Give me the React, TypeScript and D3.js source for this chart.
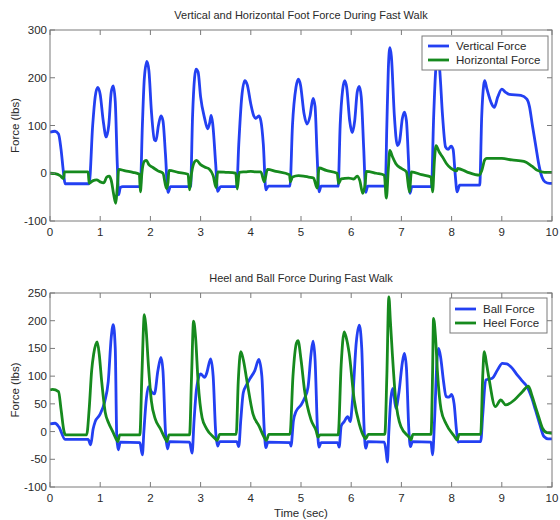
import React from "react";
import * as d3 from "d3";

// ---------- DATA ----------
const xTicks = [0, 1, 2, 3, 4, 5, 6, 7, 8, 9, 10];
const topYTicks = [-100, 0, 100, 200, 300];
const botYTicks = [-100, -50, 0, 50, 100, 150, 200, 250];

const topTitle = "Vertical and Horizontal Foot Force During Fast Walk";
const botTitle = "Heel and Ball Force During Fast Walk";
const yLabel = "Force (lbs)";
const xLabel = "Time (sec)";
const topSeriesNames = ["Vertical Force", "Horizontal Force"];
const botSeriesNames = ["Ball Force", "Heel Force"];

// [time (sec), force (lbs)]
const verticalForce: [number, number][] = [
  [0, 86], [0.1, 88], [0.17, 82], [0.22, 50], [0.27, 0], [0.3, -22], [0.78, -22],
  [0.85, 100], [0.9, 160], [0.95, 180], [1.0, 165], [1.06, 110], [1.12, 76], [1.17, 100],
  [1.22, 170], [1.26, 183], [1.3, 150], [1.34, 20], [1.37, -45], [1.4, -30], [1.45, -28],
  [1.8, -28], [1.84, 100], [1.88, 200], [1.93, 234], [1.97, 215], [2.02, 130], [2.08, 70],
  [2.11, 68], [2.16, 100], [2.21, 120], [2.25, 110], [2.3, 40], [2.35, -40], [2.4, -28],
  [2.8, -28], [2.84, 120], [2.88, 200], [2.91, 218], [2.95, 212], [3.0, 160], [3.08, 115],
  [3.14, 93], [3.18, 105], [3.21, 121], [3.24, 105], [3.3, 20], [3.34, -38], [3.4, -28],
  [3.72, -28], [3.76, 60], [3.82, 160], [3.88, 194], [3.93, 185], [4.0, 145], [4.06, 120],
  [4.1, 115], [4.16, 120], [4.2, 110], [4.25, 60], [4.3, -35], [4.35, -27], [4.78, -27],
  [4.83, 100], [4.9, 180], [4.95, 197], [4.99, 185], [5.06, 125], [5.12, 103], [5.18, 120],
  [5.24, 157], [5.28, 140], [5.32, 40], [5.36, -39], [5.4, -27], [5.74, -27], [5.78, 100],
  [5.83, 175], [5.87, 194], [5.91, 180], [5.97, 110], [6.02, 85], [6.07, 110], [6.12, 170],
  [6.16, 182], [6.2, 160], [6.25, 50], [6.29, -40], [6.33, -27], [6.68, -27], [6.71, 100],
  [6.74, 220], [6.77, 263], [6.8, 245], [6.86, 120], [6.92, 58], [6.96, 65], [7.02, 115],
  [7.06, 128], [7.1, 110], [7.14, 30], [7.17, -42], [7.21, -28], [7.6, -28], [7.64, 110],
  [7.68, 210], [7.72, 245], [7.76, 220], [7.82, 120], [7.88, 55], [7.93, 50], [7.99, 57],
  [8.03, 50], [8.07, 0], [8.11, -39], [8.16, -25], [8.56, -25], [8.6, 120], [8.64, 185],
  [8.66, 194], [8.7, 178], [8.8, 145], [8.85, 138], [8.92, 160], [9.0, 176], [9.07, 170],
  [9.15, 165], [9.38, 163], [9.5, 155], [9.55, 140], [9.61, 100], [9.68, 55], [9.74, 17],
  [9.8, -8], [9.86, -18], [9.95, -21], [10, -21],
];

const horizontalForce: [number, number][] = [
  [0, 0], [0.1, -1], [0.2, -5], [0.27, -11], [0.29, 3], [0.76, 3], [0.78, -21], [0.85, -16],
  [0.93, -14], [1.0, -18], [1.07, -20], [1.13, -8], [1.18, -6], [1.22, -15], [1.27, -45],
  [1.31, -63], [1.34, -30], [1.37, 8], [1.5, 5], [1.65, 2], [1.78, -2], [1.8, -39], [1.83, 0],
  [1.88, 25], [1.92, 27], [1.97, 18], [2.05, 12], [2.15, 5], [2.25, 0], [2.32, -32],
  [2.35, -20], [2.37, 6], [2.55, 2], [2.75, -2], [2.78, -35], [2.82, 0], [2.88, 24],
  [2.92, 27], [3.0, 18], [3.08, 13], [3.18, 8], [3.25, -5], [3.31, -30], [3.34, 3], [3.5, 2],
  [3.7, 0], [3.73, -33], [3.77, 2], [3.9, 3], [4.0, 4], [4.1, 3], [4.2, 3], [4.27, -18],
  [4.33, 8], [4.5, 4], [4.77, -3], [4.79, -18], [4.83, -8], [4.95, -5], [5.05, -6],
  [5.15, -8], [5.25, -10], [5.32, -31], [5.36, 11], [5.5, 6], [5.72, 0], [5.75, -21],
  [5.8, -12], [5.95, -10], [6.05, -12], [6.12, -6], [6.17, -15], [6.23, -42], [6.28, -20],
  [6.3, 4], [6.5, 0], [6.66, -4], [6.7, -52], [6.74, 10], [6.77, 48], [6.82, 35], [6.89, 20],
  [7.0, 10], [7.1, 3], [7.16, -39], [7.2, 3], [7.4, -3], [7.59, -8], [7.62, -39], [7.66, 30],
  [7.69, 58], [7.75, 45], [7.82, 34], [7.9, 20], [7.99, 10], [8.1, 5], [8.12, 10], [8.3, 3],
  [8.55, -4], [8.6, 5], [8.66, 28], [8.7, 31], [9.0, 31], [9.2, 28], [9.44, 25], [9.6, 15],
  [9.71, 6], [9.85, 2], [10, 2],
];

const ballForce: [number, number][] = [
  [0, 14], [0.1, 15], [0.18, 8], [0.3, -14], [0.76, -14], [0.81, -24], [0.86, 5], [0.9, 18],
  [0.99, 30], [1.09, 54], [1.16, 90], [1.22, 170], [1.26, 193], [1.3, 150], [1.33, -10],
  [1.36, -33], [1.4, -19], [1.79, -20], [1.84, -42], [1.87, 0], [1.92, 60], [1.96, 81],
  [2.02, 72], [2.08, 68], [2.15, 110], [2.21, 134], [2.25, 110], [2.3, 0], [2.34, -31],
  [2.38, -18], [2.78, -19], [2.83, -39], [2.87, 20], [2.92, 78], [3.0, 104], [3.08, 98],
  [3.12, 105], [3.2, 131], [3.25, 100], [3.3, 0], [3.34, -26], [3.38, -18], [3.72, -18],
  [3.76, -27], [3.8, 20], [3.85, 70], [3.92, 85], [3.98, 95], [4.08, 110], [4.16, 130],
  [4.22, 100], [4.27, 0], [4.3, -29], [4.34, -19], [4.78, -20], [4.8, -26], [4.85, 20],
  [4.9, 36], [5.0, 48], [5.07, 60], [5.14, 80], [5.2, 140], [5.24, 163], [5.28, 130],
  [5.33, 0], [5.36, -28], [5.4, -20], [5.73, -20], [5.76, -28], [5.8, 10], [5.86, 18],
  [5.93, 27], [5.98, 18], [6.03, 60], [6.1, 160], [6.16, 192], [6.21, 150], [6.26, 0],
  [6.29, -30], [6.33, -18], [6.66, -19], [6.7, -40], [6.72, -55], [6.75, 0], [6.79, 60],
  [6.83, 78], [6.89, 42], [6.95, 70], [7.02, 125], [7.06, 141], [7.1, 115], [7.15, 0],
  [7.18, -27], [7.22, -18], [7.59, -19], [7.62, -42], [7.66, 20], [7.71, 130], [7.74, 150],
  [7.78, 135], [7.84, 90], [7.89, 63], [7.95, 62], [8.0, 67], [8.05, 50], [8.1, 0],
  [8.13, -19], [8.17, -18], [8.58, -18], [8.62, 30], [8.68, 93], [8.81, 96], [8.92, 112],
  [9.01, 123], [9.1, 122], [9.18, 117], [9.31, 102], [9.42, 90], [9.51, 80], [9.6, 60],
  [9.67, 39], [9.75, 15], [9.84, -9], [9.92, -13], [10, -13],
];

const heelForce: [number, number][] = [
  [0, 75], [0.05, 76], [0.17, 72], [0.22, 40], [0.28, 0], [0.31, -6], [0.73, -6], [0.78, 40],
  [0.83, 110], [0.87, 140], [0.94, 162], [0.98, 140], [1.03, 90], [1.1, 35], [1.17, 15],
  [1.25, 0], [1.31, -12], [1.35, -18], [1.39, -6], [1.79, -6], [1.83, 100], [1.88, 211],
  [1.91, 190], [1.96, 120], [2.02, 55], [2.1, 22], [2.2, 5], [2.29, -12], [2.33, -18],
  [2.37, -6], [2.78, -6], [2.82, 100], [2.86, 199], [2.9, 170], [2.95, 90], [3.03, 25],
  [3.12, 5], [3.27, -11], [3.33, -16], [3.38, -5], [3.71, -5], [3.75, 90], [3.8, 144],
  [3.85, 130], [3.92, 93], [4.04, 33], [4.17, 9], [4.27, -11], [4.31, -16], [4.36, -5],
  [4.78, -5], [4.84, 100], [4.91, 160], [4.94, 164], [5.0, 130], [5.07, 75], [5.2, 21],
  [5.3, 2], [5.34, -10], [5.38, -6], [5.74, -6], [5.8, 120], [5.86, 180], [5.9, 170],
  [5.96, 141], [6.06, 57], [6.16, 14], [6.26, -10], [6.29, -13], [6.34, -5], [6.67, -5],
  [6.71, 100], [6.75, 243], [6.78, 200], [6.82, 140], [6.88, 63], [6.99, 9], [7.16, -11],
  [7.19, -15], [7.23, -5], [7.59, -5], [7.62, 100], [7.64, 204], [7.68, 170], [7.72, 105],
  [7.79, 40], [7.89, 14], [8.05, -8], [8.11, -15], [8.15, -5], [8.58, -5], [8.62, 100],
  [8.65, 144], [8.7, 120], [8.75, 93], [8.87, 45], [8.98, 57], [9.08, 48], [9.25, 57],
  [9.41, 72], [9.53, 82], [9.6, 65], [9.67, 45], [9.74, 25], [9.81, 6], [9.9, -2], [10, -3],
];

// ---------- STYLE ----------
const BLUE = "#2340f2";
const GREEN = "#168a1e";
const AXIS = "#7a7a7a";
const TEXT = "#2a2a2a";
const FONT = "'Liberation Sans', Arial, Helvetica, sans-serif";
const FS = 11.5;
const LW = 2.8;

type PanelProps = {
  top: number;
  bottom: number;
  yDomain: [number, number];
  yTicks: number[];
  title: string;
  titleY: number;
  series: { name: string; data: [number, number][]; color: string }[];
  legend: { x0: number; x1: number; y0: number; y1: number; lineX0: number; lineX1: number; textX: number; rows: number[] };
  xLabelText?: string;
};

const LEFT = 50;
const RIGHT = 552;
const TICK = 5;

function Panel(p: PanelProps) {
  const x = d3.scaleLinear().domain([0, 10]).range([LEFT, RIGHT]);
  const y = d3.scaleLinear().domain(p.yDomain).range([p.bottom, p.top]);
  const line = d3
    .line<[number, number]>()
    .x((d) => x(d[0]))
    .y((d) => y(d[1]))
    .curve(d3.curveMonotoneX);
  const clipId = `clip-${p.top}`;
  return (
    <g fontFamily={FONT} fontSize={FS} fill={TEXT}>
      <text x={(LEFT + RIGHT) / 2} y={p.titleY} textAnchor="middle" fontSize={FS - 0.5}>
        {p.title}
      </text>
      <defs>
        <clipPath id={clipId}>
          <rect x={LEFT} y={p.top} width={RIGHT - LEFT} height={p.bottom - p.top} />
        </clipPath>
      </defs>
      <rect x={LEFT} y={p.top} width={RIGHT - LEFT} height={p.bottom - p.top} fill="#fff" />
      <g clipPath={`url(#${clipId})`}>
        {p.series.map((s) => (
          <path key={s.name} d={line(s.data) || ""} fill="none" stroke={s.color} strokeWidth={LW} strokeLinejoin="round" />
        ))}
      </g>
      {xTicks.map((t) => (
        <g key={"x" + t}>
          <line x1={x(t)} x2={x(t)} y1={p.bottom} y2={p.bottom - TICK} stroke={AXIS} strokeWidth={1} />
          <line x1={x(t)} x2={x(t)} y1={p.top} y2={p.top + TICK} stroke={AXIS} strokeWidth={1} />
          <text x={x(t)} y={p.bottom + 15} textAnchor="middle">
            {t}
          </text>
        </g>
      ))}
      {p.yTicks.map((t) => (
        <g key={"y" + t}>
          <line x1={LEFT} x2={LEFT + TICK} y1={y(t)} y2={y(t)} stroke={AXIS} strokeWidth={1} />
          <line x1={RIGHT} x2={RIGHT - TICK} y1={y(t)} y2={y(t)} stroke={AXIS} strokeWidth={1} />
          <text x={LEFT - 3} y={y(t) + 4} textAnchor="end">
            {t}
          </text>
        </g>
      ))}
      <rect x={LEFT} y={p.top} width={RIGHT - LEFT} height={p.bottom - p.top} fill="none" stroke={AXIS} strokeWidth={1} />
      <text transform={`translate(19,${(p.top + p.bottom) / 2}) rotate(-90)`} textAnchor="middle">
        {yLabel}
      </text>
      {p.xLabelText && (
        <text x={(LEFT + RIGHT) / 2} y={p.bottom + 30} textAnchor="middle">
          {p.xLabelText}
        </text>
      )}
      <rect
        x={p.legend.x0}
        y={p.legend.y0}
        width={p.legend.x1 - p.legend.x0}
        height={p.legend.y1 - p.legend.y0}
        fill="#fff"
        stroke={AXIS}
        strokeWidth={1}
      />
      {p.series.map((s, i) => (
        <g key={"lg" + s.name}>
          <line
            x1={p.legend.lineX0}
            x2={p.legend.lineX1}
            y1={p.legend.rows[i]}
            y2={p.legend.rows[i]}
            stroke={s.color}
            strokeWidth={LW}
          />
          <text x={p.legend.textX} y={p.legend.rows[i] + 4}>
            {s.name}
          </text>
        </g>
      ))}
    </g>
  );
}

export default function App() {
  return (
    <svg width={560} height={520} style={{ position: "absolute", left: 0, top: 0, background: "#fff" }}>
      <rect width={560} height={520} fill="#fff" />
      <Panel
        top={30}
        bottom={221}
        yDomain={[-100, 300]}
        yTicks={topYTicks}
        title={topTitle}
        titleY={19}
        series={[
          { name: topSeriesNames[0], data: verticalForce, color: BLUE },
          { name: topSeriesNames[1], data: horizontalForce, color: GREEN },
        ]}
        legend={{ x0: 422, x1: 548, y0: 36, y1: 70, lineX0: 428, lineX1: 449, textX: 456, rows: [46, 60] }}
      />
      <Panel
        top={293}
        bottom={487}
        yDomain={[-100, 250]}
        yTicks={botYTicks}
        title={botTitle}
        titleY={282}
        series={[
          { name: botSeriesNames[0], data: ballForce, color: BLUE },
          { name: botSeriesNames[1], data: heelForce, color: GREEN },
        ]}
        legend={{ x0: 450, x1: 547, y0: 298, y1: 333, lineX0: 455, lineX1: 476, textX: 483, rows: [309, 323] }}
        xLabelText={xLabel}
      />
    </svg>
  );
}
